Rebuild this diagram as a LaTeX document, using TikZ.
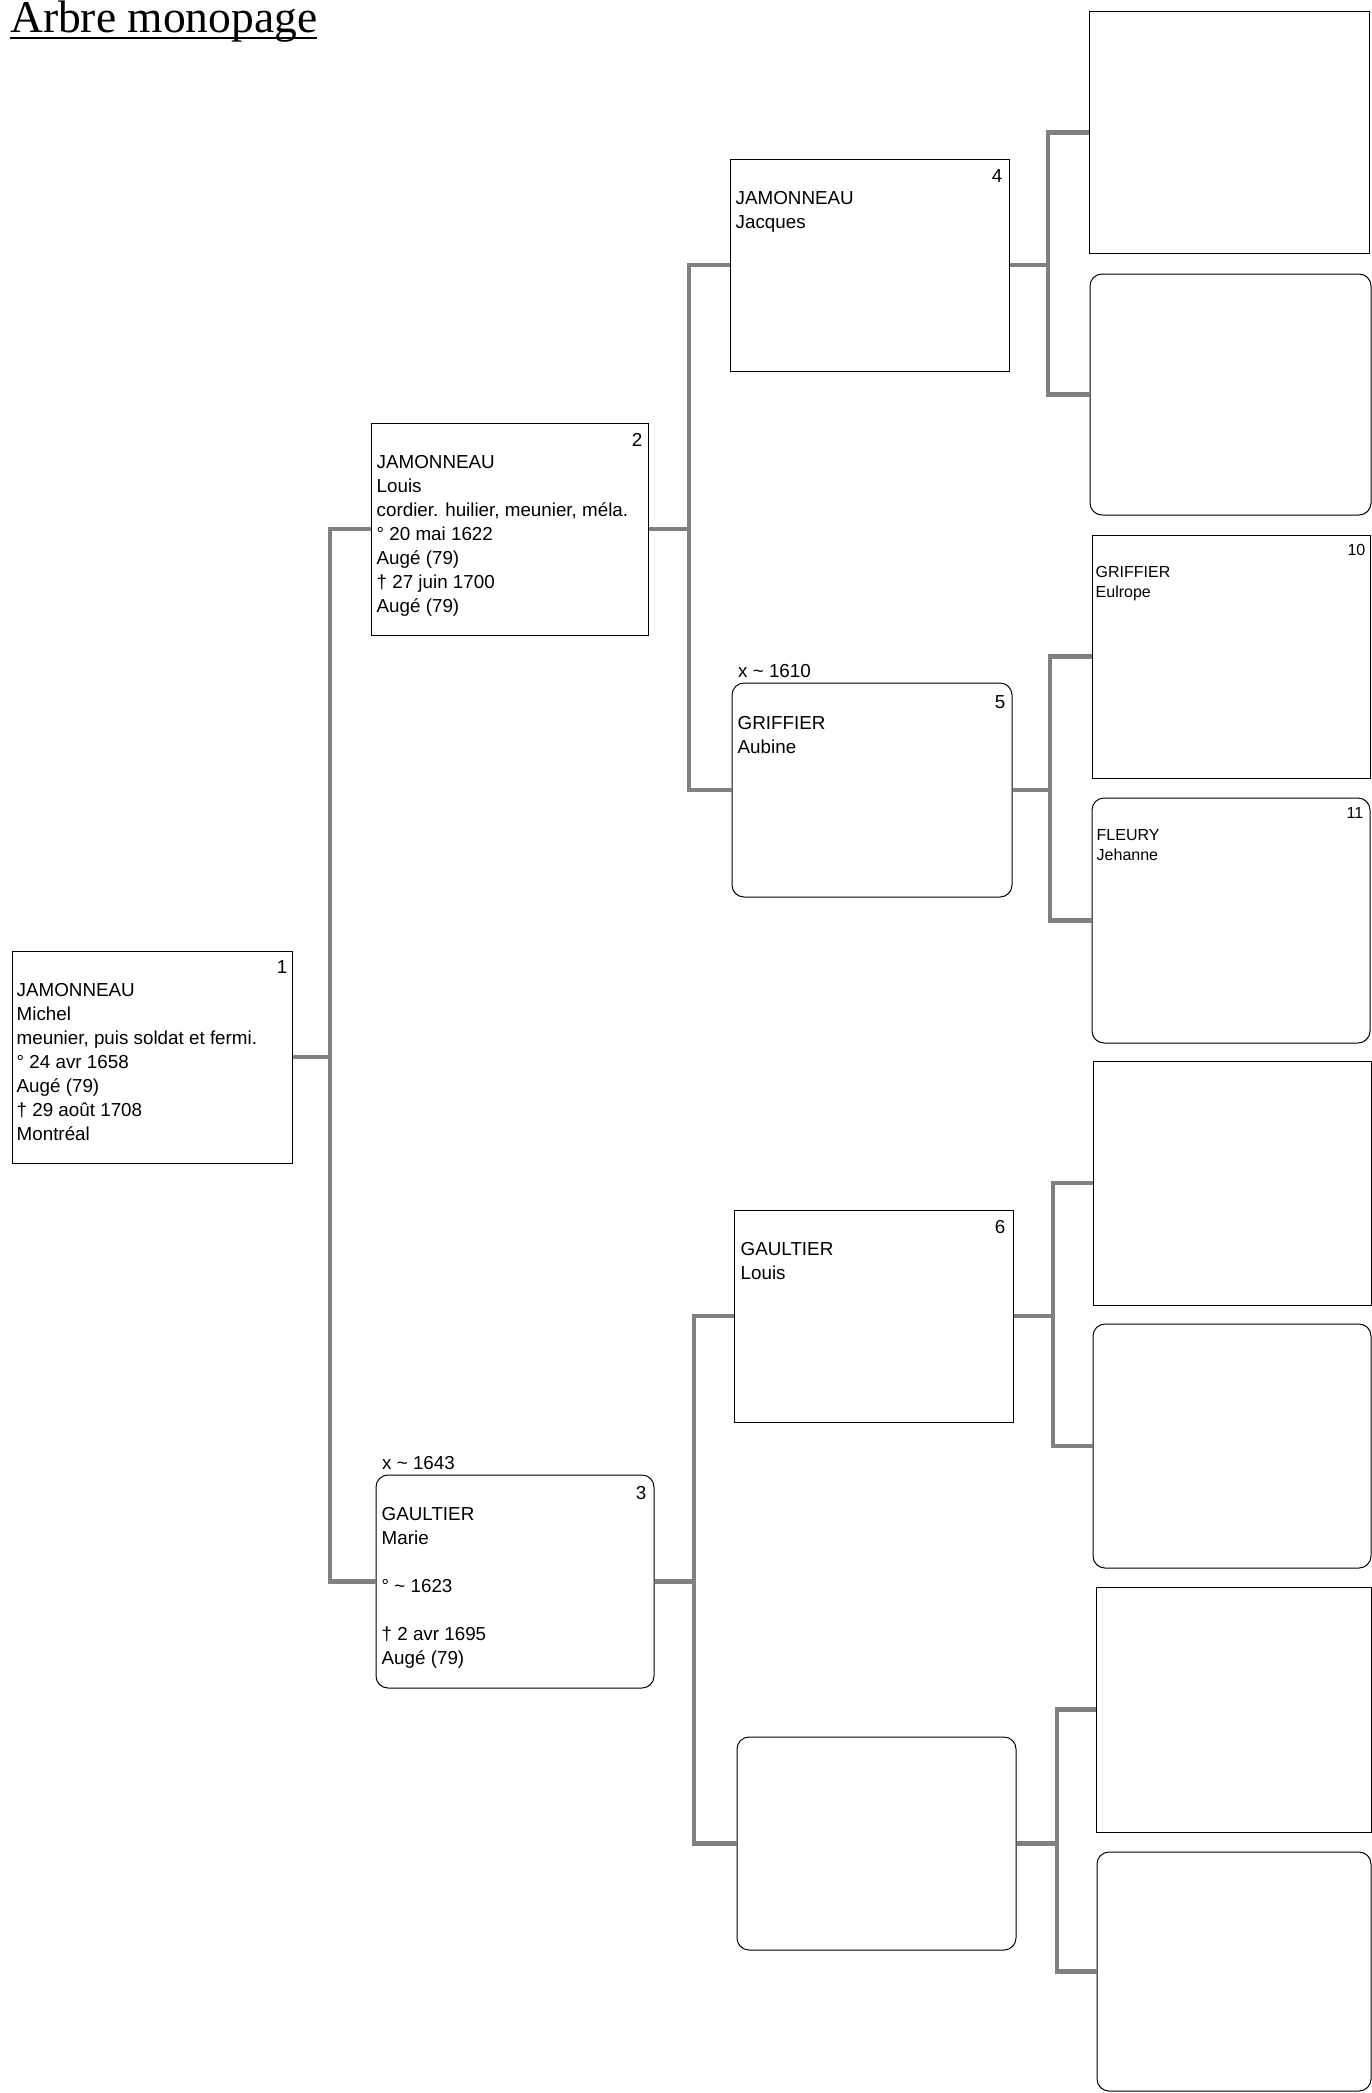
\documentclass[tikz,border=0pt]{standalone}
\usepackage{fontspec}
\setmainfont{Liberation Sans}
\newfontfamily\titlefont{Liberation Serif}
\usetikzlibrary{calc}
\begin{document}
\begin{tikzpicture}[x=1pt,y=-1pt,
  box/.style={draw=black, line width=1pt, fill=white, inner sep=0pt, minimum width=279pt, minimum height=212pt},
  sqbox/.style={box},
  rbox/.style={box, rounded corners=12pt},
  conn/.style={draw=black!50, line width=4.5pt, line join=miter},
  txt/.style={anchor=north west, inner sep=0pt, align=left, font=\fontsize{18.8}{24}\selectfont},
  stxt/.style={anchor=north west, inner sep=0pt, align=left, font=\fontsize{16}{20}\selectfont},
  num/.style={anchor=base east, inner sep=0pt, font=\fontsize{18.8}{24}\selectfont},
  snum/.style={anchor=base east, inner sep=0pt, font=\fontsize{16}{20}\selectfont},
  marr/.style={anchor=base west, inner sep=0pt, font=\fontsize{18.8}{24}\selectfont}]
\fill[white] (0,0) rectangle (1372,2093);
\useasboundingbox (0,0) rectangle (1372,2093);

% title
\node[anchor=base west, inner sep=0pt, font=\titlefont\fontsize{45.5}{50}\selectfont] (title) at (10,33) {Arbre monopage};
\draw[line width=2pt] ($(title.base west)+(0,5)$) -- ($(title.base east)+(0,5)$);

% generation 1-3 boxes
\node[sqbox, minimum width=280pt] (b1) at (152,1057) {};
\node[sqbox, minimum width=277pt] (b2) at (509.5,529) {};
\node[rbox, minimum width=278pt, minimum height=213pt] (b3) at (515,1581.5) {};
\node[sqbox] (b4) at (869.5,265) {};
\node[rbox, minimum width=280pt, minimum height=214pt] (b5) at (872,790) {};
\node[sqbox] (b6) at (873.5,1316) {};
\node[rbox, minimum height=213pt] (b7) at (876.5,1843.5) {};

% generation 4 boxes
\node[sqbox, minimum width=280pt, minimum height=241pt] (b8) at (1229,132.5) {};
\node[rbox, minimum width=281pt, minimum height=241pt] (b9) at (1230.5,394.5) {};
\node[sqbox, minimum width=278pt, minimum height=243pt] (b10) at (1231,656.5) {};
\node[rbox, minimum width=278pt, minimum height=245pt] (b11) at (1231,920.5) {};
\node[sqbox, minimum width=278pt, minimum height=244pt] (b12) at (1232,1183) {};
\node[rbox, minimum width=278pt, minimum height=244pt] (b13) at (1232,1446) {};
\node[sqbox, minimum width=275pt, minimum height=245pt] (b14) at (1233.5,1709.5) {};
\node[rbox, minimum width=274pt, minimum height=239pt] (b15) at (1234,1971.5) {};

% texts
\node[txt] (t1) at ($(b1.north west)+(5,29.2)$) {\strut JAMONNEAU\\Michel\\meunier, puis soldat et fermi.\\° 24 avr 1658\\Augé (79)\\† 29 août 1708\\Montréal};
\node[num] (n1) at ($(b1.north east)+(-5,23)$) {1};

\node[txt] (t2) at ($(b2.north west)+(6,29.2)$) {\strut JAMONNEAU\\Louis\\cordier. huilier, meunier, méla.\\° 20 mai 1622\\Augé (79)\\† 27 juin 1700\\Augé (79)};
\node[num] (n2) at ($(b2.north east)+(-6,24)$) {2};

\node[txt] (t3) at ($(b3.north west)+(6,29.2)$) {\strut GAULTIER\\Marie\\\mbox{}\\° \textasciitilde\ 1623\\\mbox{}\\† 2 avr 1695\\Augé (79)};
\node[num] (n3) at ($(b3.north east)+(-8,25)$) {3};
\node[marr] (m3) at (382,1469) {x \textasciitilde\ 1643};

\node[txt] (t4) at ($(b4.north west)+(6,29.2)$) {\strut JAMONNEAU\\Jacques};
\node[num] (n4) at ($(b4.north east)+(-7,24)$) {4};

\node[txt] (t5) at ($(b5.north west)+(6,30)$) {\strut GRIFFIER\\Aubine};
\node[num] (n5) at ($(b5.north east)+(-7,26)$) {5};
\node[marr] (m5) at (738,677) {x \textasciitilde\ 1610};

\node[txt] (t6) at ($(b6.north west)+(7,29.2)$) {\strut GAULTIER\\Louis};
\node[num] (n6) at ($(b6.north east)+(-8,24)$) {6};

\node[stxt] (t10) at ($(b10.north west)+(4,29)$) {\strut GRIFFIER\\Eulrope};
\node[snum] (n10) at ($(b10.north east)+(-5,21)$) {10};

\node[stxt] (t11) at ($(b11.north west)+(5,29)$) {\strut FLEURY\\Jehanne};
\node[snum] (n11) at ($(b11.north east)+(-7,21)$) {11};

% connectors
\coordinate (s1) at (330,1057);
\coordinate (s2) at (689,529);
\coordinate (s3) at (694,1581.5);
\coordinate (s4) at (1048,265);
\coordinate (s5) at (1050,790);
\coordinate (s6) at (1053,1316);
\coordinate (s7) at (1057,1843.5);

\draw[conn] (b1.east) -- (s1);
\draw[conn] (b2.west) -| (s1) |- (b3.west);
\draw[conn] (b2.east) -- (s2);
\draw[conn] (b4.west) -| (s2) |- (b5.west);
\draw[conn] (b3.east) -- (s3);
\draw[conn] (b6.west) -| (s3) |- (b7.west);
\draw[conn] (b4.east) -- (s4);
\draw[conn] (b8.west) -| (s4) |- (b9.west);
\draw[conn] (b5.east) -- (s5);
\draw[conn] (b10.west) -| (s5) |- (b11.west);
\draw[conn] (b6.east) -- (s6);
\draw[conn] (b12.west) -| (s6) |- (b13.west);
\draw[conn] (b7.east) -- (s7);
\draw[conn] (b14.west) -| (s7) |- (b15.west);
\end{tikzpicture}
\end{document}
